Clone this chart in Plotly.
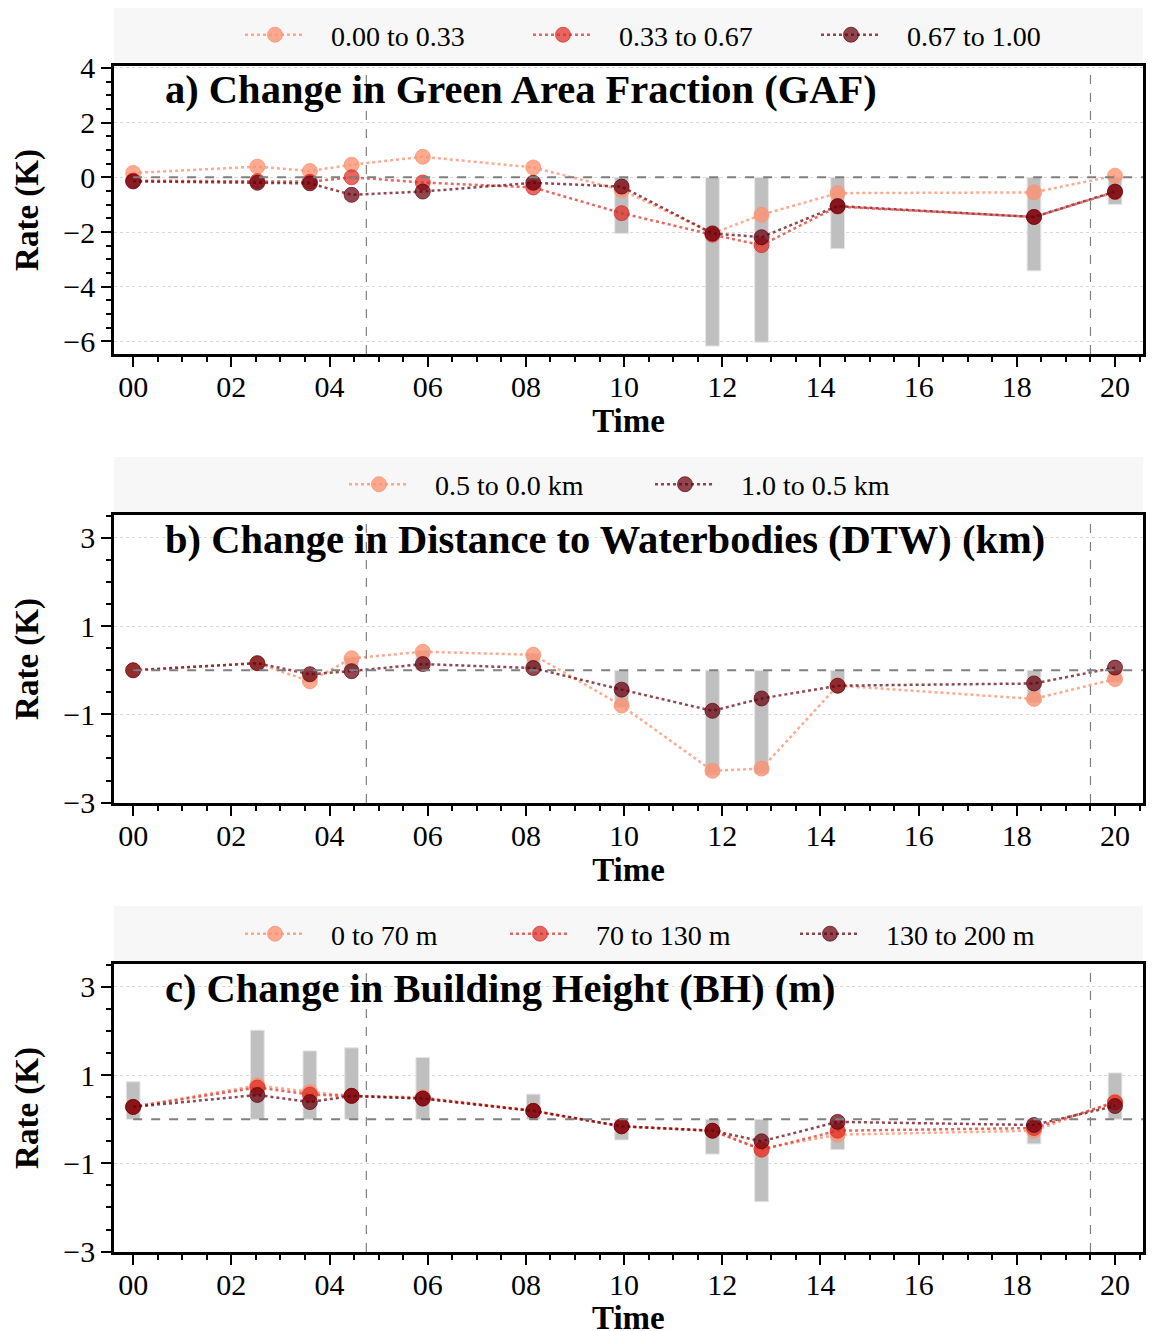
import plotly.graph_objects as go

# ---------------- data ----------------
times = [0.0, 2.53, 3.6, 4.45, 5.9, 8.15, 9.95, 11.8, 12.8, 14.35, 18.35, 20.0]
xtick_vals = [0, 2, 4, 6, 8, 10, 12, 14, 16, 18, 20]
xtick_text = ["00", "02", "04", "06", "08", "10", "12", "14", "16", "18", "20"]

# a) Green Area Fraction
gaf_names = ["0.00 to 0.33", "0.33 to 0.67", "0.67 to 1.00"]
gaf_low = [0.16, 0.39, 0.23, 0.46, 0.75, 0.36, -0.46, -2.05, -1.37, -0.58, -0.55, 0.06]
gaf_mid = [-0.12, -0.14, -0.16, 0.0, -0.19, -0.37, -1.31, -2.10, -2.48, -1.07, -1.45, -0.54]
gaf_high = [-0.15, -0.20, -0.22, -0.64, -0.52, -0.20, -0.34, -2.05, -2.19, -1.05, -1.45, -0.52]
gaf_bar = [0.0, 0.0, 0.0, 0.0, 0.0, -0.45, -2.05, -6.17, -6.03, -2.61, -3.42, -0.99]

# b) Distance to Waterbodies
dtw_names = ["0.5 to 0.0 km", "1.0 to 0.5 km"]
dtw_near = [0.0, 0.16, -0.25, 0.27, 0.42, 0.35, -0.80, -2.28, -2.23, -0.35, -0.65, -0.20]
dtw_far = [0.0, 0.16, -0.09, -0.02, 0.14, 0.05, -0.44, -0.92, -0.64, -0.35, -0.30, 0.06]
dtw_bar = [0.0, 0.18, -0.28, 0.30, 0.45, 0.38, -0.85, -2.38, -2.35, -0.44, -0.74, -0.27]

# c) Building Height
bh_names = ["0 to 70 m", "70 to 130 m", "130 to 200 m"]
bh_low = [0.28, 0.77, 0.62, 0.53, 0.50, 0.19, -0.16, -0.26, -0.67, -0.35, -0.26, 0.40]
bh_mid = [0.28, 0.72, 0.56, 0.53, 0.47, 0.19, -0.16, -0.26, -0.69, -0.26, -0.20, 0.38]
bh_high = [0.28, 0.55, 0.39, 0.53, 0.47, 0.19, -0.16, -0.26, -0.50, -0.06, -0.13, 0.30]
bh_bar = [0.85, 2.02, 1.55, 1.62, 1.40, 0.57, -0.47, -0.79, -1.87, -0.69, -0.56, 1.05]

sunrise, sunset = 4.75, 19.5
titles = ["a) Change in Green Area Fraction (GAF)",
          "b) Change in Distance to Waterbodies (DTW) (km)",
          "c) Change in Building Height (BH) (m)"]

# ---------------- style ----------------
W, H = 1152, 1331
FONT = "Liberation Serif"
C_LIGHT = "rgba(252,146,114,0.78)"
C_MID = "rgba(222,45,38,0.72)"
C_DARK = "rgba(103,0,13,0.72)"
BAR_C = "#bfbfbf"

XL, XR = 114, 1143
panels_px = [(66, 354), (515, 803), (964, 1252)]
legend_px = [(8, 62), (457, 512), (906, 962)]
# left edge (px) of each legend entry's line symbol, per panel
legend_line_x = [[250, 538, 826], [354, 660], [250, 515, 805]]
yranges = [[-6.46, 4.07], [-3.01, 3.52], [-3.01, 3.52]]
xrange_ = [-0.39, 20.57]
PAD = "\u00a0\u00a0\u00a0"


def py(v):
    return 1 - v / H


fig = go.Figure()

panel_series = [
    (gaf_bar, [(gaf_names[0], gaf_low, C_LIGHT), (gaf_names[1], gaf_mid, C_MID), (gaf_names[2], gaf_high, C_DARK)]),
    (dtw_bar, [(dtw_names[0], dtw_near, C_LIGHT), (dtw_names[1], dtw_far, C_DARK)]),
    (bh_bar, [(bh_names[0], bh_low, C_LIGHT), (bh_names[1], bh_mid, C_MID), (bh_names[2], bh_high, C_DARK)]),
]

layout = dict(
    width=W, height=H, margin=dict(l=0, r=0, t=0, b=0, autoexpand=False),
    paper_bgcolor="white", plot_bgcolor="white",
    font=dict(family=FONT, size=28, color="black"),
    barmode="overlay", showlegend=True,
)

leg_idx = 0
for i, (bars, series) in enumerate(panel_series):
    ax = "" if i == 0 else str(i + 1)
    fig.add_trace(go.Bar(x=times, y=bars, width=0.28, marker=dict(color=BAR_C, line=dict(color="#e6e6e6", width=1)),
                         showlegend=False, xaxis="x" + ax, yaxis="y" + ax, hoverinfo="skip"))
    ltop, lbot = legend_px[i]
    for k, (name, vals, col) in enumerate(series):
        leg_idx += 1
        leg = "legend" if leg_idx == 1 else f"legend{leg_idx}"
        fig.add_trace(go.Scatter(x=times, y=vals, name=PAD + name, mode="lines+markers",
                                 line=dict(color=col, width=2.5, dash="dot"),
                                 marker=dict(color=col, size=15, line=dict(color=col, width=1)),
                                 xaxis="x" + ax, yaxis="y" + ax, legend=leg))
        layout[leg] = dict(orientation="h", x=(legend_line_x[i][k] - 10) / W, xanchor="left",
                           y=py((ltop + lbot) / 2), yanchor="middle", bgcolor="rgba(0,0,0,0)",
                           font=dict(family=FONT, size=28), itemwidth=60)

shapes = []
annotations = []
axis_common = dict(showline=True, linewidth=2.5, linecolor="black", mirror=True,
                   ticks="outside", tickwidth=2, ticklen=10, tickcolor="black",
                   zeroline=False, tickfont=dict(family=FONT, size=30, color="black"))
for i in range(3):
    ax = "" if i == 0 else str(i + 1)
    top, bot = panels_px[i]
    xaxis = dict(
        axis_common, domain=[XL / W, XR / W], range=xrange_, anchor="y" + ax,
        tickmode="array", tickvals=xtick_vals, ticktext=xtick_text, showgrid=False,
        ticklabelstandoff=-6,
        minor=dict(dtick=0.5, tick0=0, ticks="outside", ticklen=5, tickwidth=1.5, tickcolor="black", showgrid=False),
    )
    if i < 2:
        xaxis["title"] = dict(text="<b>Time</b>", font=dict(family=FONT, size=33), standoff=2)
    else:
        # the bottom-most axis title would be squeezed by the page edge, so place it directly
        annotations.append(dict(text="<b>Time</b>", xref="paper", yref="paper", x=(XL + XR) / 2 / W,
                                y=py(bot + 66), xanchor="center", yanchor="middle", showarrow=False,
                                font=dict(family=FONT, size=33, color="black")))
    layout["xaxis" + ax] = xaxis
    if i == 0:
        ytick = dict(tickmode="linear", tick0=0, dtick=2)
    else:
        ytick = dict(tickmode="linear", tick0=1, dtick=2)
    layout["yaxis" + ax] = dict(
        axis_common, domain=[py(bot), py(top)], range=yranges[i], anchor="x" + ax,
        showgrid=True, gridcolor="#d9d9d9", griddash="dot", gridwidth=1,
        minor=dict(dtick=0.5, tick0=0, ticks="outside", ticklen=5, tickwidth=1.5, tickcolor="black", showgrid=False),
        title=dict(text="<b>Rate (K)</b>", font=dict(family=FONT, size=33), standoff=15),
        **ytick,
    )
    # legend background
    ltop, lbot = legend_px[i]
    shapes.append(dict(type="rect", xref="paper", yref="paper", x0=XL / W, x1=XR / W, y0=py(lbot), y1=py(ltop),
                       fillcolor="#f7f7f7", line=dict(width=0), layer="below"))
    # zero line and day/night lines
    shapes.append(dict(type="line", xref="x" + ax, yref="y" + ax, x0=0, x1=xrange_[1], y0=0, y1=0,
                       line=dict(color="#7f7f7f", width=2, dash="dash")))
    for xv in (sunrise, sunset):
        shapes.append(dict(type="line", xref="x" + ax, yref=f"y{ax} domain", x0=xv, x1=xv, y0=0, y1=1,
                           line=dict(color="#7f7f7f", width=1.2, dash="dash")))
    annotations.append(dict(text="<b>" + titles[i] + "</b>", xref="paper", yref="paper", x=163 / W,
                            y=py(top + 24), xanchor="left", yanchor="middle", showarrow=False,
                            font=dict(family=FONT, size=40.5, color="black")))

layout["shapes"] = shapes
layout["annotations"] = annotations
fig.update_layout(**layout)
fig.write_html("out.html", config={"displayModeBar": False},
               post_script="document.body.style.margin='0px';document.body.style.overflow='hidden';")
